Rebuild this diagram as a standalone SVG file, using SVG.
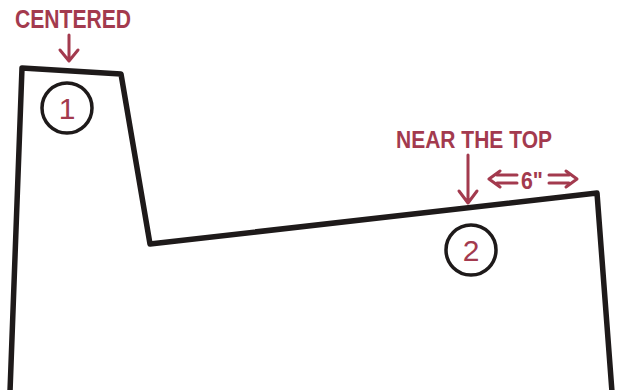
<svg xmlns="http://www.w3.org/2000/svg" width="618" height="390" viewBox="0 0 618 390">
<defs>
<style>
.lbl{font-family:"Liberation Sans",Arial,sans-serif;font-weight:bold;fill:#a33a4e}
.num{font-family:"Liberation Sans",Arial,sans-serif;fill:#a33a4e;font-size:30px;text-anchor:middle}
.out{fill:none;stroke:#1e1a1a;stroke-width:5.5;stroke-linejoin:round}
.circ{fill:none;stroke:#1e1a1a;stroke-width:3.5}
.arr{fill:none;stroke:#a33a4e;stroke-width:3;stroke-linecap:round;stroke-linejoin:round}
</style>
</defs>
<rect width="618" height="390" fill="#ffffff"/>
<g id="outline">
<path class="out" d="M10,392 L22,68 L121,74 L150,244 L597,193 L612,392"/>
</g>
<g id="node1">
<circle class="circ" cx="67" cy="108" r="25"/>
<text class="num" x="67" y="119">1</text>
</g>
<g id="node2">
<circle class="circ" cx="471" cy="250" r="25"/>
<text class="num" x="471" y="261">2</text>
</g>
<g id="label-centered">
<text class="lbl" x="15" y="28" font-size="25" textLength="116" lengthAdjust="spacingAndGlyphs">CENTERED</text>
</g>
<g id="label-top">
<text class="lbl" x="396" y="148" font-size="24" textLength="156" lengthAdjust="spacingAndGlyphs">NEAR THE TOP</text>
<text class="lbl" x="521" y="189" font-size="24" textLength="22" lengthAdjust="spacingAndGlyphs">6"</text>
</g>
<g id="connectors">
<path class="arr" d="M69,35 L69,60 M60,50 L69,61 L78,50"/>
<path class="arr" d="M468,155 L468,202 M459,191 L468,203 L477,191"/>
<path class="arr" d="M517,175 L497,175 M517,183 L497,183 M500,171 L489,179 L500,187"/>
<path class="arr" d="M549,175 L569,175 M549,183 L569,183 M566,171 L577,179 L566,187"/>
</g>
</svg>
